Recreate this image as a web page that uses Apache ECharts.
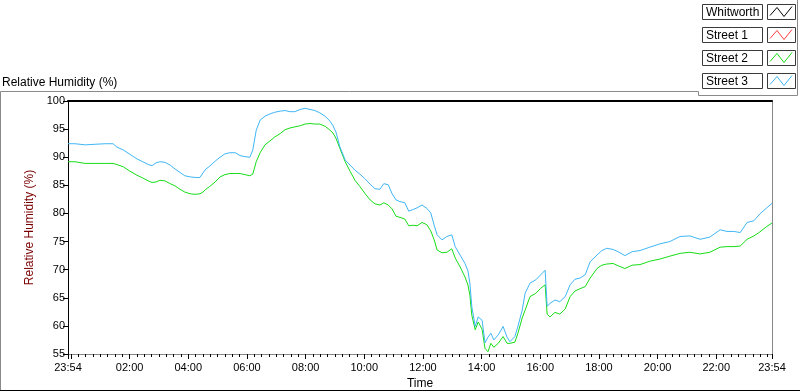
<!DOCTYPE html>
<html>
<head>
  <meta charset="utf-8">
  <title>Relative Humidity</title>
  <script src="https://cdn.jsdelivr.net/npm/echarts@6/dist/echarts.min.js"></script>
  <style>html,body{margin:0;padding:0;background:#fff;}</style>
</head>
<body>
  <div id="main" style="width:800px;height:392px;"></div>
  <script type="text/javascript">
    // time in minutes after midnight (-6 = 23:54 of the day before)
    var times = [
      -6, 8, 29, 49, 70, 86, 94, 107, 121, 135,
      147, 158, 166, 174, 182, 192, 203, 213, 223, 233,
      244, 254, 264, 270, 276, 284, 295, 305, 315, 325,
      336, 346, 356, 366, 372, 379, 387, 397, 407, 417,
      428, 438, 448, 458, 469, 479, 489, 499, 509, 520,
      530, 536, 542, 550, 561, 571, 581, 591, 601, 612,
      622, 632, 640, 649, 657, 665, 673, 683, 691, 700,
      708, 718, 728, 736, 743, 749, 759, 769, 779, 786,
      796, 806, 812, 816, 820, 827, 833, 841, 847, 853,
      859, 865, 874, 884, 892, 898, 908, 914, 923, 929,
      939, 951, 961, 970, 974, 980, 990, 1000, 1011, 1021,
      1031, 1041, 1052, 1062, 1076, 1086, 1096, 1109, 1119, 1133,
      1148, 1164, 1184, 1205, 1225, 1246, 1266, 1287, 1307, 1328,
      1342, 1356, 1369, 1383, 1397, 1409, 1422, 1434
    ];
    var street2 = [
      89.2, 89.2, 88.9, 88.9, 88.9, 88.9, 88.7, 88.3, 87.5, 86.8,
      86.3, 85.8, 85.5, 85.6, 85.9, 85.8, 85.3, 84.9, 84.3, 83.8,
      83.5, 83.4, 83.5, 83.8, 84.3, 84.8, 85.6, 86.5, 86.9, 87.1,
      87.1, 87.1, 86.9, 86.7, 87.0, 89.2, 90.8, 92.2, 92.9, 93.6,
      94.2, 94.9, 95.2, 95.4, 95.6, 95.9, 96.0, 95.9, 95.9, 95.5,
      94.8, 94.3, 93.4, 91.6, 89.2, 87.5, 85.9, 84.8, 83.6, 82.4,
      81.7, 81.5, 81.9, 81.5, 80.8, 79.5, 79.3, 79.0, 77.8, 77.9,
      77.8, 78.4, 78.0, 76.9, 75.3, 73.5, 73.0, 73.1, 73.7, 72.1,
      70.5, 68.7, 67.3, 65.5, 61.9, 59.3, 60.7, 59.4, 56.0, 55.4,
      56.9, 56.2, 56.9, 58.1, 56.9, 56.9, 57.1, 58.6, 61.4, 62.8,
      65.2, 65.8, 66.7, 67.3, 62.1, 61.6, 62.4, 62.1, 63.0, 65.2,
      66.2, 66.6, 67.0, 68.5, 70.2, 70.8, 71.0, 71.1, 70.7, 70.2,
      70.8, 70.9, 71.5, 71.9, 72.4, 72.9, 73.1, 72.8, 73.1, 74.0,
      74.1, 74.1, 74.2, 75.4, 76.0, 76.7, 77.6, 78.3
    ];
    var street3 = [
      92.4, 92.4, 92.2, 92.3, 92.4, 92.4, 91.8, 91.3, 90.5, 89.7,
      89.2, 88.7, 88.5, 89.0, 89.2, 89.1, 88.6, 87.9, 87.3, 86.7,
      86.5, 86.4, 86.4, 87.2, 87.9, 88.4, 89.3, 90.0, 90.6, 90.8,
      90.8, 90.3, 90.1, 90.0, 91.3, 94.8, 96.6, 97.3, 97.7, 98.0,
      98.2, 98.3, 98.1, 98.1, 98.5, 98.7, 98.5, 98.3, 97.9, 97.3,
      96.4, 95.6, 94.5, 91.9, 89.5, 88.6, 87.7, 87.0, 86.2, 85.2,
      84.4, 84.3, 85.3, 85.1, 83.5, 82.4, 82.1, 81.9, 80.4, 80.7,
      81.0, 81.5, 80.9, 80.1, 77.9, 76.2, 75.3, 75.9, 76.2, 74.1,
      72.6, 71.1, 69.8, 67.6, 63.4, 59.9, 61.6, 61.0, 57.0, 58.0,
      58.7, 57.5, 58.4, 59.9, 58.0, 57.2, 58.1, 59.8, 62.8, 65.8,
      67.6, 68.2, 69.1, 69.9, 63.5, 64.0, 64.6, 64.3, 65.2, 67.3,
      68.3, 68.5, 69.1, 71.4, 72.6, 73.4, 73.8, 73.6, 73.2, 72.5,
      73.2, 73.4, 74.0, 74.6, 75.0, 75.9, 76.0, 75.4, 75.8, 77.1,
      76.8, 76.8, 76.6, 78.4, 78.7, 79.9, 80.9, 81.8
    ];
    var whitworth = [];
    var street1 = [];

    var seriesNames = ['Whitworth', 'Street 1', 'Street 2', 'Street 3'];
    var seriesColors = ['#000000', '#ff3b3b', '#16dd16', '#3fb6f5'];
    var labelTimes = [-6, 120, 240, 360, 480, 600, 720, 840, 960, 1080, 1200, 1320, 1434];
    var yTicks = [55, 60, 65, 70, 75, 80, 85, 90, 95, 100];

    var FONT = 'Liberation Sans';

    function fmtTime(v) {
      var m = ((Math.round(v) % 1440) + 1440) % 1440;
      var h = Math.floor(m / 60), mm = m % 60;
      return (h < 10 ? '0' : '') + h + ':' + (mm < 10 ? '0' : '') + mm;
    }

    // 15 minute minor ticks
    var minorTicks = [];
    for (var t = 0; t < 1434; t += 15) {
      if (t % 120 !== 0) minorTicks.push(t);
    }
    var majorTicks = [-6, 0].concat(labelTimes.slice(1));

    function pairs(vals) {
      return vals.map(function (v, i) { return [times[i], v]; });
    }
    var seriesData = [whitworth, street1, pairs(street2), pairs(street3)];

    var myChart = echarts.init(document.getElementById('main'));

    // LabVIEW style legend, drawn as boxes
    var legendGraphics = [];
    seriesNames.forEach(function (name, i) {
      var y0 = 4.5 + i * 23;
      legendGraphics.push({
        type: 'rect', shape: { x: 702.5, y: y0, width: 60, height: 15 },
        style: { fill: '#fff', stroke: '#3a3a3a', lineWidth: 1 }
      });
      legendGraphics.push({
        type: 'text', x: 706, y: y0 + 8,
        style: { text: name, fill: '#000', font: '12px ' + FONT, verticalAlign: 'middle' }
      });
      legendGraphics.push({
        type: 'rect', shape: { x: 767.5, y: y0, width: 28, height: 15 },
        style: { fill: '#fff', stroke: '#3a3a3a', lineWidth: 1 }
      });
      legendGraphics.push({
        type: 'polyline',
        shape: { points: [[770, y0 + 11], [777, y0 + 3], [784, y0 + 12], [792, y0 + 2]] },
        style: { stroke: seriesColors[i], lineWidth: 1, fill: null }
      });
    });

    var frameGraphics = [
      { type: 'polyline', shape: { points: [[0.5, 391], [0.5, 91.5], [698.5, 91.5], [698.5, 95.5], [797.5, 95.5], [797.5, 0]] },
        style: { stroke: '#8a8a8a', lineWidth: 1, fill: null } },
      { type: 'line', shape: { x1: 0, y1: 390.5, x2: 800, y2: 390.5 }, style: { stroke: '#000', lineWidth: 1 } },
      { type: 'text', x: 2, y: 83,
        style: { text: 'Relative Humidity (%)', fill: '#000', font: '12px ' + FONT, verticalAlign: 'middle' } }
    ];

    var option = {
      animation: false,
      backgroundColor: '#fff',
      grid: { left: 68, top: 101, right: 28, bottom: 38, containLabel: false, outerBoundsMode: 'none' },
      graphic: frameGraphics.concat(legendGraphics),
      xAxis: [{
        type: 'value', min: -6, max: 1434, position: 'bottom',
        name: 'Time', nameLocation: 'middle', nameGap: 24,
        nameTextStyle: { color: '#000', fontSize: 12, fontFamily: FONT },
        axisLine: { onZero: false, lineStyle: { color: '#888', width: 1 } },
        axisTick: { customValues: majorTicks, length: 5, lineStyle: { color: '#000' } },
        axisLabel: { customValues: labelTimes, formatter: fmtTime, color: '#000', fontSize: 11,
          fontFamily: FONT, margin: 8, showMinLabel: true, showMaxLabel: true },
        splitLine: { show: false }
      }, {
        type: 'value', min: -6, max: 1434, position: 'bottom',
        axisLine: { show: false, onZero: false },
        axisTick: { customValues: minorTicks, length: 3, lineStyle: { color: '#000' } },
        axisLabel: { show: false },
        splitLine: { show: false }
      }, {
        type: 'value', min: -6, max: 1434, position: 'top',
        axisLine: { onZero: false, lineStyle: { color: '#000', width: 2 } },
        axisTick: { show: false }, axisLabel: { show: false }, splitLine: { show: false }
      }],
      yAxis: [{
        type: 'value', min: 55, max: 100, interval: 5, position: 'left',
        name: 'Relative Humidity (%)', nameLocation: 'middle', nameGap: 30, nameRotate: 90,
        nameTextStyle: { color: '#7a0000', fontSize: 12, fontFamily: FONT },
        axisLine: { show: true, onZero: false, lineStyle: { color: '#000', width: 1 } },
        axisTick: { show: true, length: 5, lineStyle: { color: '#000' } },
        axisLabel: { color: '#000', fontSize: 11, fontFamily: FONT, margin: 3 },
        splitLine: { show: false }
      }, {
        type: 'value', min: 55, max: 100, interval: 5, position: 'right',
        axisLine: { show: true, onZero: false, lineStyle: { color: '#888', width: 1 } },
        axisTick: { show: false }, axisLabel: { show: false }, splitLine: { show: false }
      }],
      series: seriesNames.map(function (name, i) {
        return {
          name: name, type: 'line', xAxisIndex: 0, yAxisIndex: 0,
          data: seriesData[i], showSymbol: false, symbol: 'none',
          lineStyle: { color: seriesColors[i], width: 1 },
          itemStyle: { color: seriesColors[i] }
        };
      })
    };

    myChart.setOption(option);
  </script>
</body>
</html>
